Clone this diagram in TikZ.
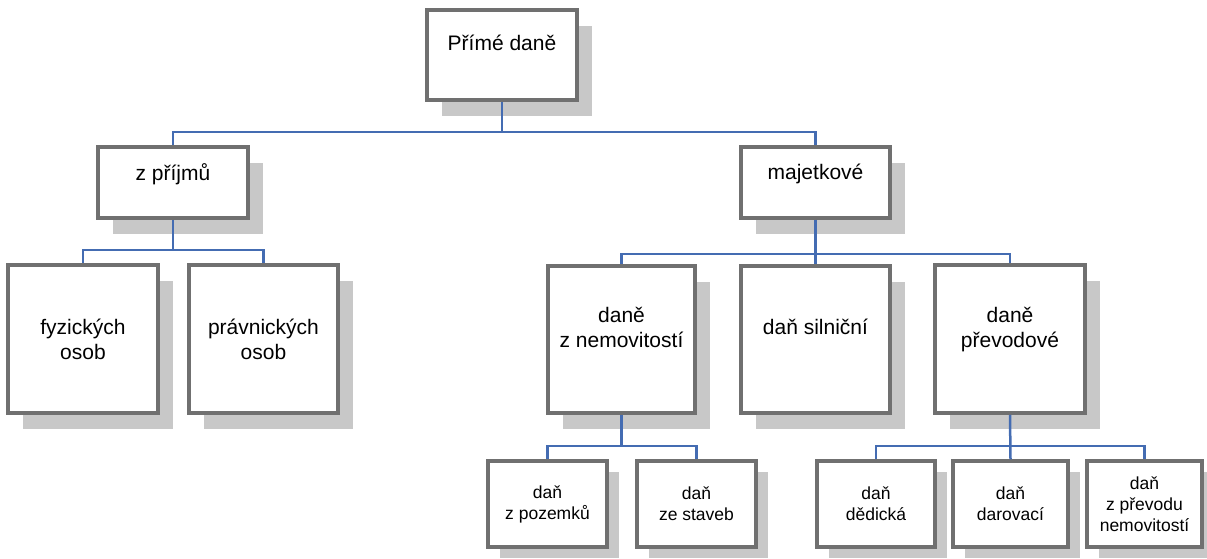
\documentclass[tikz,border=0pt]{standalone}
\usepackage{fontspec}
\setmainfont{Liberation Sans}
\usetikzlibrary{shadows}
\definecolor{boxgray}{RGB}{112,112,112}
\definecolor{shadowgray}{RGB}{200,200,200}
\definecolor{linkblue}{RGB}{68,108,178}

\begin{document}
\begin{tikzpicture}[x=1pt,y=-1pt,
	box/.style={draw=boxgray, line width=3.5pt, fill=white, rectangle, align=center, inner sep=0pt},
	big/.style={box, font=\fontsize{21}{25}\selectfont,
		drop shadow={shadow xshift=15pt, shadow yshift=-16pt, fill=shadowgray, opacity=1}},
	small/.style={box, font=\fontsize{17.5}{21}\selectfont, minimum height=86pt,
		drop shadow={shadow xshift=12pt, shadow yshift=-11pt, fill=shadowgray, opacity=1}},
	link/.style={draw=linkblue, line width=2.5pt}]
	\useasboundingbox (0,0) rectangle (1207,558);
	\node [big, minimum width=150pt, text height=40.5pt, text depth=49.5pt] (n0) at (502,55) {Přímé daně};
	\node [big, minimum width=150pt, text height=33pt, text depth=38pt] (n1) at (173,182.5) {z příjmů};
	\node [big, minimum width=149pt, text height=32.5pt, text depth=38.5pt] (n2) at (815.5,182.5) {majetkové};
	\node [big, minimum width=150pt, minimum height=148pt] (n3) at (83,339) {fyzických\\osob};
	\node [big, minimum width=149pt, minimum height=148pt] (n4) at (263.5,339) {právnických\\osob};
	\node [big, minimum width=147pt, text height=81.5pt, text depth=65.5pt] (n5) at (621.5,339.5) {daně\\z nemovitostí};
	\node [big, minimum width=149pt, text height=68.5pt, text depth=78.5pt] (n6) at (815.5,339.5) {daň silniční};
	\node [big, minimum width=150pt, text height=82pt, text depth=66pt] (n7) at (1010,339) {daně\\převodové};
	\node [small, minimum width=119pt] (n8) at (547.5,504) {daň\\z pozemků};
	\node [small, minimum width=119pt] (n9) at (696.5,504) {daň\\ze staveb};
	\node [small, minimum width=118pt] (n10) at (876,504) {daň\\dědická};
	\node [small, minimum width=115pt] (n11) at (1010.5,504) {daň\\darovací};
	\node [small, minimum width=115pt] (n12) at (1144.5,504) {daň\\z převodu\\nemovitostí};
	\draw [link] (n0.south) -- ++(0,30) -| (n1.north);
	\draw [link] (n0.south) -- ++(0,30) -| (n2.north);
	\draw [link] (n1.south) -- ++(0,30) -| (n3.north);
	\draw [link] (n1.south) -- ++(0,30) -| (n4.north);
	\draw [link] (n2.south) -- ++(0,34) -| (n5.north);
	\draw [link] (n2.south) -- (n6.north);
	\draw [link] (n2.south) -- ++(0,34) -| (n7.north);
	\draw [link] (n5.south) -- ++(0,31) -| (n8.north);
	\draw [link] (n5.south) -- ++(0,31) -| (n9.north);
	\draw [link] (n7.south) -- ++(0,31) -| (n10.north);
	\draw [link] (n7.south) -- (n11.north);
	\draw [link] (n7.south) -- ++(0,31) -| (n12.north);
\end{tikzpicture}
\end{document}
